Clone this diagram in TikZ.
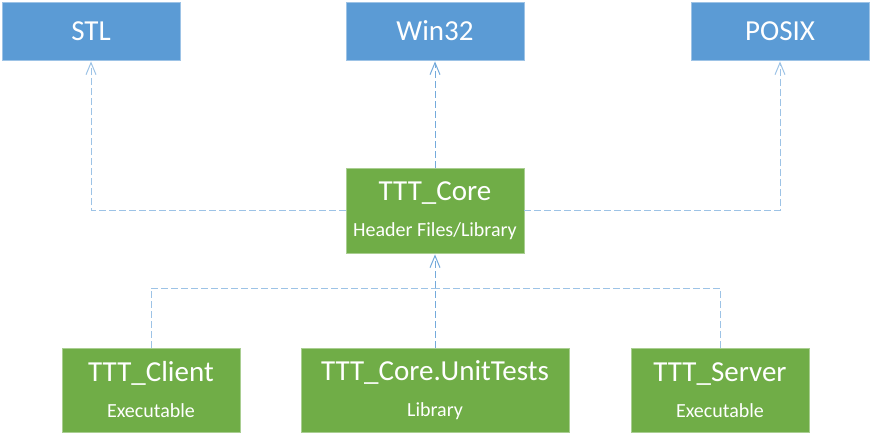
\documentclass[tikz,border=0pt]{standalone}
\usepackage{fontspec}
\setmainfont{Carlito}
\usetikzlibrary{arrows.meta}
\definecolor{osBlue}{HTML}{5B9BD5}
\definecolor{osGreen}{HTML}{70AD47}
\definecolor{osLine}{HTML}{9DC3E6}

\begin{document}
\begin{tikzpicture}
  [x=1pt,y=-1pt,
  sys/.style={rectangle,draw=osBlue!60!white,fill=osBlue,text=white,
    line width=0.8pt,minimum width=178pt,minimum height=58pt,
    font=\fontsize{29}{34}\selectfont},
  mod/.style={rectangle,draw=osGreen!60!white,fill=osGreen,text=white,
    line width=0.8pt,minimum width=178pt,minimum height=84pt,align=center,
    font=\fontsize{29}{36}\selectfont},
  dep/.style={draw=osLine,line width=1pt,dash pattern=on 7pt off 3pt},
  depmain/.style={dep,draw=osBlue!85!white},
  uses/.style={-{Straight Barb[length=12pt,width=10pt,line width=1pt]},shorten >=1pt}]

  \useasboundingbox (0,0) rectangle (871,434);

  \node[sys] (stl) at (91,31) {STL};
  \node[sys] (win) at (435,31) {Win32};
  \node[sys] (posix) at (780,31) {POSIX};

  \node[mod,minimum height=85pt] (core) at (435,210.5)
    {TTT\_Core\\{\fontsize{20}{24}\selectfont Header Files/Library}};

  \node[mod] (cli) at (151,390) {TTT\_Client\\{\fontsize{20}{24}\selectfont Executable}};
  \node[mod,minimum width=268pt] (ut) at (435,390)
    {TTT\_Core.UnitTests\\{\fontsize{20}{24}\selectfont Library}};
  \node[mod] (srv) at (720,390) {TTT\_Server\\{\fontsize{20}{24}\selectfont Executable}};

  \coordinate (bus) at (435,288);

  % core depends on the platform libraries
  \draw[dep,uses] (core.west) -| (stl.south);
  \draw[dep,uses] (core.east) -| (posix.south);
  \draw[depmain,uses] (core.north) -- (win.south);

  % modules depend on core
  \draw[dep] (cli.north) |- (bus);
  \draw[dep] (srv.north) |- (bus);
  \draw[depmain,uses] (ut.north) -- (core.south);
\end{tikzpicture}
\end{document}
